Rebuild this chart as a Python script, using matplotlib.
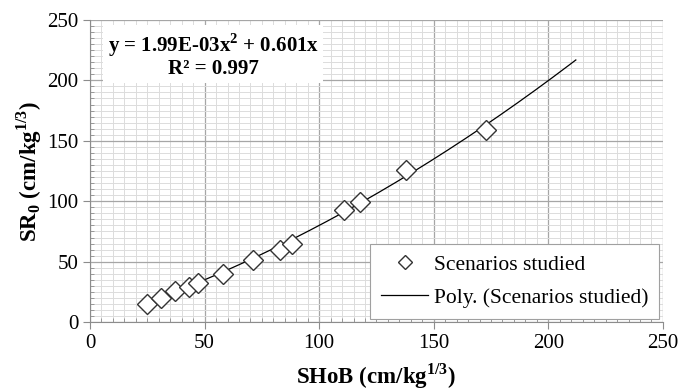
import numpy as np
import matplotlib
matplotlib.use('Agg')
import matplotlib.pyplot as plt
from matplotlib.ticker import MultipleLocator

plt.rcParams['font.family'] = ['Liberation Serif', 'DejaVu Serif']
plt.rcParams['mathtext.fontset'] = 'custom'
plt.rcParams['mathtext.rm'] = 'Liberation Serif'
plt.rcParams['mathtext.bf'] = 'Liberation Serif:bold'

# scenarios studied (SHoB, SR0)
shob = [25, 31, 37, 43, 47, 58, 71, 83, 88, 111, 118, 138, 173]
sr0 = [15, 20, 26, 29, 32, 40, 51, 60, 65, 93, 99, 126, 159]

# Excel polynomial trend line (through origin)
a2, a1 = 1.99e-3, 0.601
fit_x = np.linspace(24, 212, 200)
fit_y = a2 * fit_x**2 + a1 * fit_x

fig = plt.figure(figsize=(6.82, 3.90), dpi=100)
ax = fig.add_axes([0.132, 0.174, 0.840, 0.775])

ax.plot(fit_x, fit_y, color='black', lw=0.9, label='Poly. (Scenarios studied)', zorder=3)
ax.plot(shob, sr0, linestyle='none', marker='D', markersize=10, mfc='white', mec='#333333',
        mew=1.0, label='Scenarios studied', zorder=4)

ax.set_xlim(0, 250)
ax.set_ylim(0, 250)
ax.xaxis.set_major_locator(MultipleLocator(50))
ax.yaxis.set_major_locator(MultipleLocator(50))
ax.xaxis.set_minor_locator(MultipleLocator(5))
ax.yaxis.set_minor_locator(MultipleLocator(5))
ax.grid(which='major', color='#a6a6a6', lw=0.9)
ax.grid(which='minor', color='#dcdcdc', lw=0.7)
ax.set_axisbelow(True)
for s in ['top', 'right']:
    ax.spines[s].set_visible(False)
for s in ['left', 'bottom']:
    ax.spines[s].set_color('#8c8c8c')
ax.tick_params(which='major', direction='out', length=5, color='#8c8c8c', labelsize=15)
ax.tick_params(which='minor', direction='in', length=3, color='#8c8c8c')

ax.set_xlabel('SHoB (cm/kg$^{\\mathbf{1/3}}$)', fontsize=16.5, fontweight='bold', labelpad=6)
ax.set_ylabel('SR$_\\mathbf{0}$ (cm/kg$^{\\mathbf{1/3}}$)', fontsize=16.5, fontweight='bold', labelpad=2)

ax.text(0.215, 0.884, 'y = 1.99E-03x$^\\mathbf{2}$ + 0.601x\nR² = 0.997', transform=ax.transAxes,
        ha='center', va='center', fontsize=15, fontweight='bold', linespacing=1.0,
        bbox=dict(facecolor='white', edgecolor='none', pad=3), zorder=5)

handles, labels = ax.get_legend_handles_labels()
leg = ax.legend(handles[::-1], labels[::-1], loc='lower right', bbox_to_anchor=(0.993, 0.012),
                fontsize=15.5, frameon=True, fancybox=False, edgecolor='#a0a0a0',
                framealpha=1, handlelength=2.2, handletextpad=0.25, borderpad=0.5,
                labelspacing=0.6, borderaxespad=0, markerscale=0.75)
leg.get_frame().set_linewidth(0.8)

fig.savefig('out.png', dpi=100)
